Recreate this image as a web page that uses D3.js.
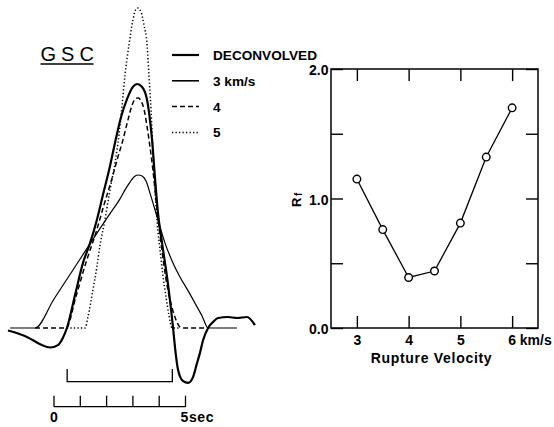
<!DOCTYPE html>
<html>
<head>
<meta charset="utf-8">
<script src="https://cdn.jsdelivr.net/npm/d3@7"></script>
<style>
  body { margin: 0; background: #fff; }
  text { font-family: "Liberation Sans", Arial, sans-serif; fill: #000; }
</style>
</head>
<body>
<svg width="554" height="427"></svg>
<script>
// time (sec) vs amplitude (deconvolved peak = 1)
var deconvolved = [[-1.75,-0.01],[-1.18,-0.03],[-0.80,-0.05],[-0.46,-0.07],[-0.15,-0.08],[0.15,-0.07],
  [0.34,-0.04],[0.49,0],[0.80,0.135],[1.10,0.266],[1.37,0.348],[1.63,0.443],[1.86,0.545],[2.13,0.664],
  [2.36,0.779],[2.55,0.865],[2.78,0.939],[3.00,0.988],[3.16,1.0],[3.35,0.988],[3.54,0.934],[3.65,0.852],
  [3.73,0.770],[3.84,0.615],[3.95,0.475],[4.11,0.348],[4.33,0.184],[4.52,0.008],[4.60,-0.078],
  [4.71,-0.168],[4.90,-0.217],[5.10,-0.225],[5.29,-0.20],[5.44,-0.143],[5.55,-0.102],[5.67,-0.049],
  [5.86,0],[6.05,0.025],[6.24,0.041],[6.62,0.045],[6.96,0.041],[7.34,0.045],[7.64,0.012]];
var model3 = [[-1.67,0],[-0.72,0],[0.0,0.119],[1.0,0.284],[2.02,0.451],[2.28,0.492],[2.51,0.529],
  [2.70,0.566],[2.89,0.598],[3.04,0.619],[3.19,0.627],[3.35,0.623],[3.50,0.602],[3.65,0.553],
  [3.92,0.455],[4.22,0.348],[4.49,0.275],[4.79,0.209],[5.10,0.152],[5.36,0.102],[5.63,0.049],
  [5.86,0],[6.96,0]];
var model4 = [[-0.72,0],[0.46,0],[0.84,0.131],[1.22,0.270],[1.60,0.393],[1.90,0.504],[2.21,0.615],
  [2.43,0.701],[2.62,0.770],[2.81,0.852],[3.00,0.922],[3.12,0.941],[3.21,0.943],[3.31,0.930],
  [3.42,0.898],[3.54,0.824],[3.65,0.742],[3.76,0.648],[3.88,0.525],[4.03,0.381],[4.18,0.258],
  [4.33,0.156],[4.49,0.082],[4.64,0.033],[4.79,0.004],[4.90,0],[5.86,0]];
var model5 = [[0.49,0],[1.18,0],[1.29,0.045],[1.48,0.156],[1.63,0.25],[1.75,0.340],[1.90,0.422],
  [2.13,0.566],[2.32,0.676],[2.47,0.791],[2.59,0.914],[2.70,1.037],[2.85,1.160],[3.00,1.262],
  [3.12,1.307],[3.19,1.311],[3.31,1.295],[3.42,1.242],[3.54,1.160],[3.61,1.037],[3.69,0.893],
  [3.76,0.730],[3.84,0.566],[3.92,0.434],[4.03,0.320],[4.14,0.217],[4.26,0.127],[4.37,0.053],
  [4.49,0],[4.79,0]];
var legendLabels = ["DECONVOLVED", "3 km/s", "4", "5"];
var scaleTicks = [0, 1, 2, 3, 4, 5];
var windowSec = [0.5, 4.5];

// right panel
var velocity = [3, 3.5, 4, 4.5, 5, 5.5, 6];
var rf = [1.15, 0.76, 0.39, 0.44, 0.81, 1.32, 1.70];
var velTicks = [3, 4, 5, 6];
var rfTicks = [0, 0.5, 1, 1.5, 2];

var svg = d3.select("svg");

// ---- left panel: waveforms ----
var xT = d3.scaleLinear().domain([0, 5]).range([54, 185.5]);
var yA = d3.scaleLinear().domain([0, 1]).range([328, 84]);

var wave = d3.line()
    .x(function(d) { return xT(d[0]); })
    .y(function(d) { return yA(d[1]); })
    .curve(d3.curveMonotoneX);

var styles = [
  { data: deconvolved, width: 2.2, dash: null },
  { data: model3, width: 1.2, dash: null },
  { data: model4, width: 1.5, dash: "5,3" },
  { data: model5, width: 1.5, dash: "1.3,2.2" }
];

svg.append("g").selectAll("path")
  .data(styles.slice().reverse())
  .enter().append("path")
    .attr("d", function(d) { return wave(d.data); })
    .attr("fill", "none")
    .attr("stroke", "#000")
    .attr("stroke-width", function(d) { return d.width; })
    .attr("stroke-dasharray", function(d) { return d.dash; })
    .attr("stroke-linejoin", "round");

// title
svg.append("text")
    .attr("x", 40.5).attr("y", 61)
    .style("font-size", "20px")
    .style("letter-spacing", "5px")
    .text("GSC");
svg.append("line")
    .attr("x1", 40.5).attr("x2", 93.5)
    .attr("y1", 64).attr("y2", 64)
    .attr("stroke", "#000").attr("stroke-width", 1.6);

// legend
var leg = svg.append("g").selectAll("g")
  .data(styles)
  .enter().append("g")
    .attr("transform", function(d, i) { return "translate(172," + (55 + i * 25.8) + ")"; });
leg.append("line")
    .attr("x1", 0).attr("x2", 27)
    .attr("stroke", "#000")
    .attr("stroke-width", function(d, i) { return i === 1 ? 1.6 : d.width; })
    .attr("stroke-dasharray", function(d) { return d.dash; });
leg.append("text")
    .attr("x", 41).attr("y", 5)
    .style("font-size", "13.6px")
    .style("font-weight", "bold")
    .text(function(d, i) { return legendLabels[i]; });

// time window bracket
svg.append("path")
    .attr("d", "M" + xT(windowSec[0]) + ",369V381.7H" + xT(windowSec[1]) + "V369")
    .attr("fill", "none").attr("stroke", "#000").attr("stroke-width", 1.3);

// time scale bar
var bar = svg.append("g").attr("transform", "translate(0,406.7)");
bar.append("line")
    .attr("x1", xT(0)).attr("x2", xT(5))
    .attr("stroke", "#000").attr("stroke-width", 1.3);
bar.selectAll(".tk")
  .data(scaleTicks)
  .enter().append("line")
    .attr("x1", function(d) { return xT(d); })
    .attr("x2", function(d) { return xT(d); })
    .attr("y1", -11).attr("y2", 0)
    .attr("stroke", "#000").attr("stroke-width", 1.3);
bar.append("text")
    .attr("x", xT(0)).attr("y", 15)
    .attr("text-anchor", "middle")
    .style("font-size", "14px").style("font-weight", "bold")
    .text("0");
bar.append("text")
    .attr("x", xT(5) - 5).attr("y", 15)
    .style("font-size", "14px").style("font-weight", "bold")
    .style("letter-spacing", "0.6px")
    .text("5sec");

// ---- right panel: Rf vs rupture velocity ----
var xV = d3.scaleLinear().domain([2.5, 6.5]).range([331, 538]);
var yR = d3.scaleLinear().domain([0, 2]).range([328, 69]);

svg.append("rect")
    .attr("x", xV(2.5)).attr("y", yR(2))
    .attr("width", xV(6.5) - xV(2.5)).attr("height", yR(0) - yR(2))
    .attr("fill", "none").attr("stroke", "#000").attr("stroke-width", 1.5);

var axB = svg.append("g")
    .attr("transform", "translate(0," + yR(0) + ")")
    .call(d3.axisBottom(xV).tickValues(velTicks).tickSize(-12).tickSizeOuter(0)
      .tickFormat(function(d) { return d === 6 ? "6 km/s" : d; }));
var axT = svg.append("g")
    .attr("transform", "translate(0," + yR(2) + ")")
    .call(d3.axisTop(xV).tickValues(velTicks).tickSize(-12).tickSizeOuter(0).tickFormat(""));
var axL = svg.append("g")
    .attr("transform", "translate(" + xV(2.5) + ",0)")
    .call(d3.axisLeft(yR).tickValues(rfTicks).tickSize(-12).tickSizeOuter(0)
      .tickFormat(function(d) { return d % 1 === 0 ? d.toFixed(1) : ""; }));
var axR = svg.append("g")
    .attr("transform", "translate(" + xV(6.5) + ",0)")
    .call(d3.axisRight(yR).tickValues(rfTicks).tickSize(-12).tickSizeOuter(0).tickFormat(""));

[axB, axT, axL, axR].forEach(function(a) {
  a.select(".domain").remove();
  a.selectAll("line").attr("stroke-width", 1.4);
  a.selectAll("text")
    .style("font-family", "Liberation Sans, Arial, sans-serif")
    .style("font-size", "14px")
    .style("font-weight", "bold")
    .attr("fill", "#000");
});
axB.selectAll("text").attr("y", 7);
axB.selectAll("text").filter(function(d) { return d === 6; })
    .attr("text-anchor", "start").attr("x", -4.5);
axL.selectAll("text").attr("x", -2.5).attr("dy", "0.4em");

svg.append("text")
    .attr("x", xV(4.5) - 3).attr("y", 363)
    .attr("text-anchor", "middle")
    .style("font-size", "14px").style("font-weight", "bold")
    .style("letter-spacing", "0.7px")
    .text("Rupture Velocity");

var rl = svg.append("text")
    .attr("transform", "translate(301,207) rotate(-90)")
    .style("font-size", "13px").style("font-weight", "bold");
rl.append("tspan").text("R");
rl.append("tspan").attr("dx", 1.5).attr("dy", 1).style("font-size", "10px").text("f");

var rline = d3.line()
    .x(function(d, i) { return xV(velocity[i]); })
    .y(function(d) { return yR(d); });

svg.append("path")
    .attr("d", rline(rf))
    .attr("fill", "none").attr("stroke", "#000").attr("stroke-width", 1.3);

svg.append("g").selectAll("circle")
  .data(rf)
  .enter().append("circle")
    .attr("cx", function(d, i) { return xV(velocity[i]); })
    .attr("cy", function(d) { return yR(d); })
    .attr("r", 3.8)
    .attr("fill", "#fff").attr("stroke", "#000").attr("stroke-width", 1.4);
</script>
</body>
</html>
